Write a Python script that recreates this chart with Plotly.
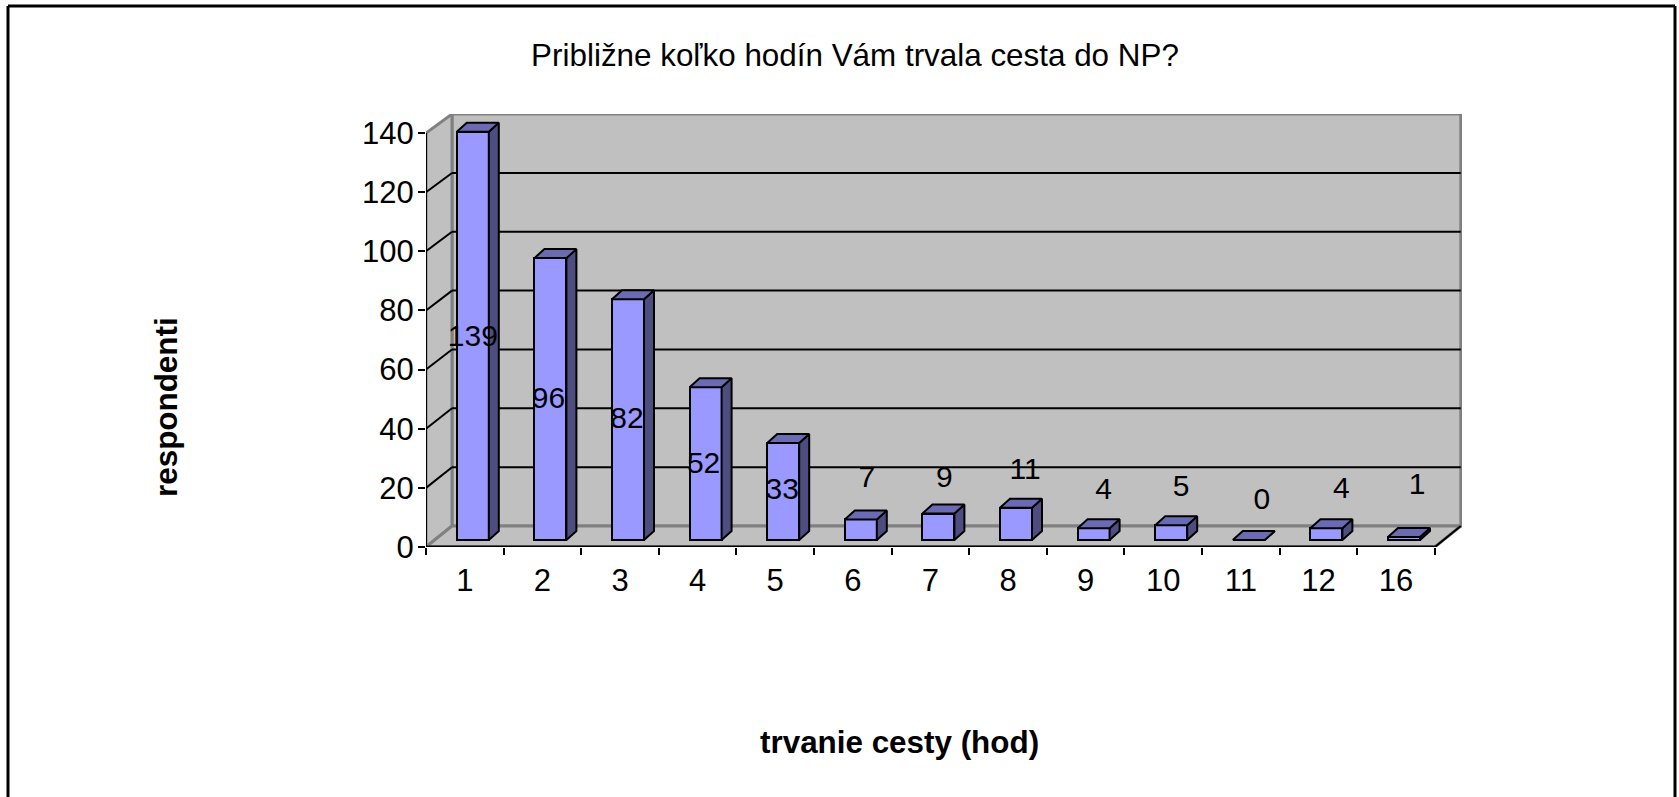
import plotly.graph_objects as go

categories = ["1", "2", "3", "4", "5", "6", "7", "8", "9", "10", "11", "12", "16"]
respondents = [139, 96, 82, 52, 33, 7, 9, 11, 4, 5, 0, 4, 1]
y_ticks = [0, 20, 40, 60, 80, 100, 120, 140]
title_text = "Približne koľko hodín Vám trvala cesta do NP?"
x_title = "trvanie cesty (hod)"
y_title = "respondenti"

# layout constants (pixels of the 1679x797 page)
W, H = 1679, 797
L, R, T, B = 426, 1462, 114, 547
PX_X = 77.6
PX_Y = 2.957
FONT = "Liberation Sans, Arial, sans-serif"
FS = 31
LABEL_FS = 30
TITLE_FS = 31.4

# label nudges in pixels: small bars carry their label above the bar
label_dx = [0, -2, -1, -2, -1, 6, 6, 9, 10, 10, 13, 15, 13]
label_top = [None, None, None, None, None, 476, 476, 468, 488, 485, 498, 487, 483]
label_drop = [3, 1, 1, 2, 0, 3, 3, 3, 3, 3, 3, 3, 3]

dx = lambda p: p / PX_X
dy = lambda p: p / PX_Y
n = len(categories)
xs = list(range(n))
x_lo, x_hi = -0.5, n - 0.5
wall_dx, wall_dy = dx(26), dy(21)
back = 0.995

bar_off_x, bar_base = dx(8), dy(7)
bar_w = dx(32)
depth_x, depth_y = dx(10), dy(9)
bar_scale = 0.993
heights = [v * bar_scale for v in respondents]

GRID = "#000000"
WALL = "#C0C0C0"
EDGE = "#808080"
shapes = []


def poly(pts, fill, line, w=2, layer="below"):
    path = "M " + " L ".join(f"{x},{y}" for x, y in pts) + " Z"
    shapes.append(dict(type="path", path=path, xref="x", yref="y", fillcolor=fill,
                       line=dict(color=line, width=w), layer=layer))


def seg(x0, y0, x1, y1, color, w=2, layer="below"):
    shapes.append(dict(type="line", x0=x0, y0=y0, x1=x1, y1=y1, xref="x", yref="y",
                       line=dict(color=color, width=w), layer=layer))


top_v, bot_v = y_ticks[-1], y_ticks[0]
bx0 = x_lo + wall_dx
bx1 = x_hi + wall_dx
poly([(bx0, wall_dy), (bx1, wall_dy), (bx1, top_v * back + wall_dy), (bx0, top_v * back + wall_dy)], WALL, EDGE, 3)
poly([(x_lo, 0), (bx0, wall_dy), (bx0, top_v * back + wall_dy), (x_lo, top_v)], WALL, EDGE, 3)
poly([(x_lo, 0), (x_hi, 0), (bx1, wall_dy), (bx0, wall_dy)], WALL, EDGE, 3)
for v in y_ticks[1:-1]:
    seg(x_lo, v, bx0, v * back + wall_dy, GRID)
    seg(bx0, v * back + wall_dy, bx1, v * back + wall_dy, GRID)
seg(x_lo, 0, x_lo, top_v, "#000000")
seg(x_lo, 0, x_hi, 0, "#000000", 3)
seg(x_hi, 0, bx1, wall_dy, "#000000")


def page_x(p):
    return (p - L) / (R - L)


def page_y(p):
    return (B - p) / (B - T)


for x0, y0, x1, y1 in [(8, 6, 8, H), (8, 6, 1675, 6), (1675, 6, 1675, H)]:
    shapes.append(dict(type="line", xref="paper", yref="paper", x0=page_x(x0), y0=page_y(y0),
                       x1=page_x(x1), y1=page_y(y1), line=dict(color="#000000", width=3), layer="above"))

side_x, side_y, top_x, top_y = [], [], [], []
for x, h in zip(xs, heights):
    l = x + bar_off_x - bar_w / 2
    r = x + bar_off_x + bar_w / 2
    b = bar_base
    t = bar_base + h
    side_x += [r, r + depth_x, r + depth_x, r, r, None]
    side_y += [b, b + depth_y, t + depth_y, t, b, None]
    top_x += [l, r, r + depth_x, l + depth_x, l, None]
    top_y += [t, t, t + depth_y, t + depth_y, t, None]

label_x, label_y = [], []
for x, h, nudge, top, drop in zip(xs, heights, label_dx, label_top, label_drop):
    label_x.append(x + bar_off_x + dx(nudge))
    base_y = bar_base + h / 2 if top is None else (B - top) / PX_Y
    label_y.append(base_y - dy(drop))

fig = go.Figure()
fig.add_bar(x=[x + bar_off_x for x in xs], y=heights, base=bar_base, width=bar_w,
            marker=dict(color="#9999FF", line=dict(color="#000000", width=2)), hoverinfo="skip")
fig.add_scatter(x=side_x, y=side_y, mode="lines", fill="toself", fillcolor="#4D4D80",
                line=dict(color="#000000", width=2), hoverinfo="skip")
fig.add_scatter(x=top_x, y=top_y, mode="lines", fill="toself", fillcolor="#6B6BB3",
                line=dict(color="#000000", width=2), hoverinfo="skip")
fig.add_scatter(x=label_x, y=label_y, mode="text", text=[str(v) for v in respondents],
                textposition="middle center", textfont=dict(family=FONT, size=LABEL_FS, color="#000000"),
                hoverinfo="skip")

fig.update_layout(
    width=W, height=H, autosize=False, showlegend=False,
    paper_bgcolor="#FFFFFF", plot_bgcolor="#FFFFFF",
    margin=dict(l=L, r=W - R, t=T, b=H - B, pad=0),
    font=dict(family=FONT, size=FS, color="#000000"),
    bargap=0, shapes=shapes,
    title=dict(text=title_text, x=855 / W, y=1 - 55 / H, xanchor="center", yanchor="middle",
               font=dict(family=FONT, size=TITLE_FS, color="#000000")),
    xaxis=dict(range=[x_lo, x_lo + (R - L) / PX_X], tickmode="array", tickvals=xs, ticktext=categories,
               showgrid=False, zeroline=False, showline=False, ticks="", ticklabelstandoff=12,
               minor=dict(tickmode="array", tickvals=[x_lo + i for i in range(n + 1)], ticks="outside",
                          ticklen=7, tickwidth=2, tickcolor="#000000", showgrid=False),
               tickfont=dict(family=FONT, size=FS)),
    yaxis=dict(range=[0, (B - T) / PX_Y], tickmode="array", tickvals=y_ticks,
               showgrid=False, zeroline=False, showline=False, ticks="outside", ticklen=7, tickwidth=2,
               tickcolor="#000000", ticklabelstandoff=-2, tickfont=dict(family=FONT, size=FS)),
    annotations=[
        dict(text=x_title, xref="paper", yref="paper", x=page_x(899), y=page_y(742), showarrow=False,
             xanchor="center", yanchor="middle", font=dict(family=FONT, size=TITLE_FS, color="#000000", weight="bold")),
        dict(text=y_title, xref="paper", yref="paper", x=page_x(166), y=page_y(407), showarrow=False, textangle=-90,
             xanchor="center", yanchor="middle", font=dict(family=FONT, size=TITLE_FS, color="#000000", weight="bold")),
    ],
)

fig.write_html("out.html", config={"displayModeBar": False},
               post_script="document.body.style.margin='0';document.body.style.overflow='hidden';")
